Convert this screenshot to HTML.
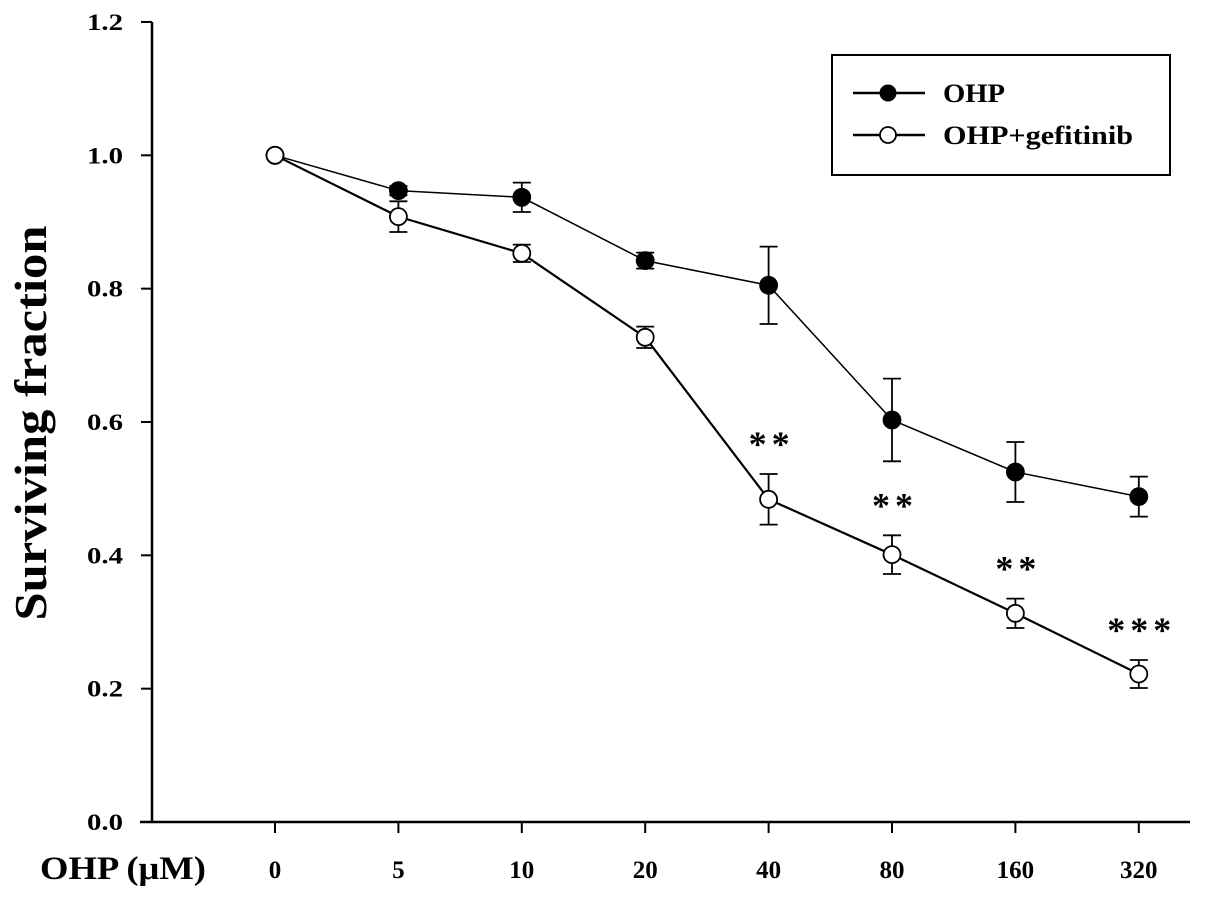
<!DOCTYPE html>
<html><head><meta charset="utf-8"><style>body{margin:0;background:#fff}svg{display:block}text{font-family:"Liberation Serif",serif;font-weight:bold;fill:#000}</style></head>
<body>
<svg id="chart" width="1205" height="898" viewBox="0 0 1205 898">
<g id="axes"></g>
<g id="series"></g>
<g>
<rect x="832" y="55" width="338" height="120" fill="#fff" stroke="#000" stroke-width="2"/>
<g><line x1="853" y1="93" x2="925" y2="93" stroke="#000" stroke-width="2.5"/><circle cx="888" cy="93" r="8.5" fill="#000"/><text x="943" y="102" font-size="26" textLength="62" lengthAdjust="spacingAndGlyphs">OHP</text></g>
<g><line x1="853" y1="135" x2="925" y2="135" stroke="#000" stroke-width="2.5"/><circle cx="888" cy="135" r="8" fill="#fff" stroke="#000" stroke-width="1.8"/><text x="943" y="144" font-size="26" textLength="190" lengthAdjust="spacingAndGlyphs">OHP+gefitinib</text></g>
</g>
<text transform="translate(46,423) rotate(-90)" text-anchor="middle" font-size="46" textLength="395" lengthAdjust="spacingAndGlyphs">Surviving fraction</text>
<text x="40" y="879" font-size="33" textLength="166" lengthAdjust="spacingAndGlyphs">OHP (μM)</text>
</svg>
<script>
const categories=["0","5","10","20","40","80","160","320"];
const ohp=[1.0,0.947,0.937,0.842,0.805,0.603,0.525,0.488];
const ohpErr=[0,0.007,0.022,0.012,0.058,0.062,0.045,0.03];
const gef=[1.0,0.908,0.853,0.727,0.484,0.401,0.313,0.222];
const gefErr=[0,0.023,0.013,0.016,0.038,0.029,0.022,0.021];
const stars=["","","","","**","**","**","***"];
const yTicks=[0,0.2,0.4,0.6,0.8,1.0,1.2];
const NS="http://www.w3.org/2000/svg";
const X=i=>275+i*123.4, Y=v=>822-v*666.7;
function mk(tag,attrs,parent){const e=document.createElementNS(NS,tag);for(const k in attrs)e.setAttribute(k,attrs[k]);parent.appendChild(e);return e;}
const ax=document.getElementById('axes'), sr=document.getElementById('series');
let l=mk('line',{x1:152,y1:22,x2:152,y2:822,stroke:'#000','stroke-width':2.5},ax);


l=mk('line',{x1:140,y1:822,x2:1190,y2:822,stroke:'#000','stroke-width':2.5},ax);


yTicks.forEach(v=>{mk('line',{x1:141,y1:Y(v),x2:152,y2:Y(v),stroke:'#000','stroke-width':2},ax);
const t=mk('text',{x:123,y:Y(v)+8,'text-anchor':'end','font-size':23,textLength:36,lengthAdjust:'spacingAndGlyphs'},ax);t.textContent=v.toFixed(1);

});
categories.forEach((c,i)=>{mk('line',{x1:X(i),y1:822,x2:X(i),y2:833,stroke:'#000','stroke-width':2},ax);
const t=mk('text',{x:X(i),y:878,'text-anchor':'middle','font-size':25},ax);t.textContent=c;

});
function series(vals,errs,fill,lw,name){
const g=mk('g',{},sr);


mk('polyline',{points:vals.map((v,i)=>X(i)+','+Y(v)).join(' '),fill:'none',stroke:'#000','stroke-width':lw},g);
vals.forEach((v,i)=>{if(errs[i]>0){const a=Y(v+errs[i]),b=Y(v-errs[i]);
mk('line',{x1:X(i),y1:a,x2:X(i),y2:b,stroke:'#000','stroke-width':1.8},g);
mk('line',{x1:X(i)-9,y1:a,x2:X(i)+9,y2:a,stroke:'#000','stroke-width':1.8},g);
mk('line',{x1:X(i)-9,y1:b,x2:X(i)+9,y2:b,stroke:'#000','stroke-width':1.8},g);}});
vals.forEach((v,i)=>{const c=mk('circle',{cx:X(i),cy:Y(v),r:8.5,fill:fill,stroke:'#000','stroke-width':1.8},g);

});
}
series(ohp,ohpErr,'#000',1.5,'series-ohp');
series(gef,gefErr,'#fff',2.2,'series-ohp-gefitinib');
stars.forEach((s,i)=>{if(!s)return;const t=mk('text',{x:X(i)+3,y:Y(gef[i]+gefErr[i])-18,'text-anchor':'middle','font-size':36,'font-weight':'normal','letter-spacing':'5'},sr);t.textContent=s;

});
</script>
</body></html>
